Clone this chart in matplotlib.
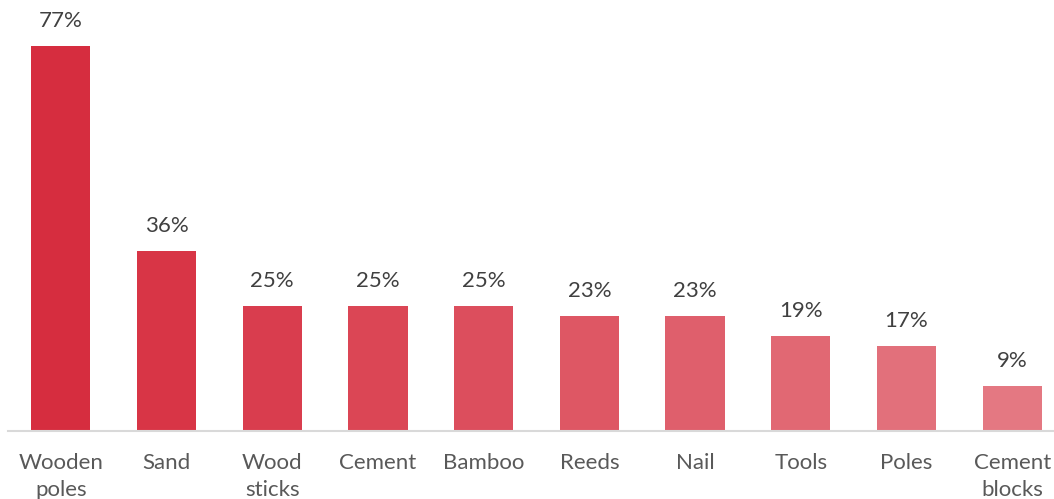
import numpy as np
import matplotlib.pyplot as plt
from matplotlib.colors import LinearSegmentedColormap

categories = ['Wooden\npoles', 'Sand', 'Wood\nsticks', 'Cement', 'Bamboo',
              'Reeds', 'Nail', 'Tools', 'Poles', 'Cement\nblocks']
shares = [77, 36, 25, 25, 25, 23, 23, 19, 17, 9]

plt.rcParams['font.family'] = ['Lato', 'DejaVu Sans']

# red fading to pink from the largest to the smallest bar
cmap = LinearSegmentedColormap.from_list('reds', ['#D62D3F', '#E47882'])
colors = [cmap(i / (len(shares) - 1)) for i in range(len(shares))]

fig = plt.figure(figsize=(10.54, 4.99), dpi=100)
ax = fig.add_axes([8 / 1054, 68 / 499, 1057 / 1054, 431 / 499])

x = np.arange(len(categories))
bars = ax.bar(x, shares, width=0.56, color=colors)

for bar, v in zip(bars, shares):
    ax.annotate(f'{v}%', (bar.get_x() + bar.get_width() / 2, bar.get_height()),
                xytext=(0, 11), textcoords='offset points',
                ha='center', va='bottom', fontsize=16, color='#404040')

ax.set_xlim(-0.5, 9.5)
ax.set_ylim(0, 86.2)
ax.set_xticks(x)
ax.set_xticklabels(categories, fontsize=16, color='#595959', linespacing=1.4)
ax.tick_params(axis='x', length=0, pad=16)
ax.set_yticks([])

for side in ['top', 'right', 'left']:
    ax.spines[side].set_visible(False)
ax.spines['bottom'].set_color('#D9D9D9')
ax.spines['bottom'].set_linewidth(1.5)

fig.savefig('out.png', dpi=100)
